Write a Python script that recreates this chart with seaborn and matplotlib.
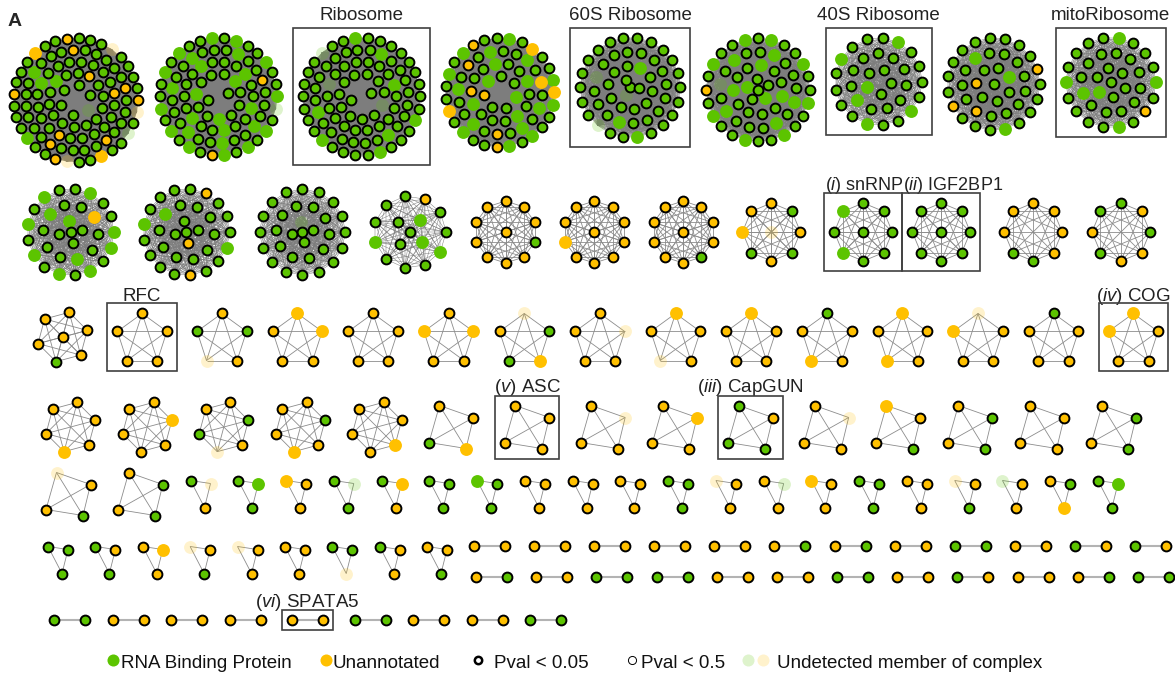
import itertools
import numpy as np
import pandas as pd
import seaborn as sns
import matplotlib.pyplot as plt
from matplotlib.collections import LineCollection
from matplotlib.patches import Rectangle

sns.set_theme(style="white")
plt.rcParams['font.family'] = ['Liberation Sans', 'DejaVu Sans']
plt.rcParams['mathtext.fontset'] = 'custom'
plt.rcParams['mathtext.it'] = 'Liberation Sans:italic'
plt.rcParams['mathtext.rm'] = 'Liberation Sans'

# node codes: G / Y = RNA binding protein / unannotated with Pval < 0.05
#             g / y = same with Pval < 0.5, u / v = undetected member of complex
# (big complexes are listed from the middle outwards)
ROW1 = [
    "GuGGGGGGGG" "GGYGGgGGGG" "GGGGYGGGGG" "GGgGGGGYGG" "GGGYGGGGGY"
    "GGGgGGGGGG" "YGGGGYGGGG" "GvGGGYGGyG" "GGYGGGgGGY" "vGGyGGuGvY",
    "GGgGGGgGGG" "gGGGGgGGgG" "GGgGGGGgGG" "gGGGYGGgGG" "GgGGgGGGgG"
    "GgGGgGGgGG" "gGgGGgGgGG" "gGgGgGYgGg" "GgGug",
    "GGGGuGGGGG" "GGGGGGGgGG" "GGGGuGGGGG" "GGGGGGGgGG" "GGGGGGgGGG"
    "GGGgGGGGGG" "GGgGGuGGGG" "GGGgGGGGgG" "GGgGG",
    "GgGGgYGgGG" "gGGgGGYgGG" "GgGyGgGGgG" "YGgGGgGYGg" "GgGGyGgGGY"
    "gGgGGyGgGG" "YgGgGGgy",
    "GGGuGGGgGG" "GGGGGGGGGG" "GGuGGGgGGG" "GGGGGGGGGG" "GGGuGGgGGGGG",
    "GgGGgGGgGG" "gGGgGGGgGG" "GgGGgGuGgG" "GGgGGgGGgG" "gGGgGYGgGG" "gGGgGGgG",
    "GGGgGGGGGG" "GGgGGGGGgG" "GGgGGGGgGGgGG",
    "GGgGGYGGGG" "GGGgGGGYGG" "GYGGGGGGGG" "GYGGGgGGGG",
    "GGGGGgGGGG" "GGGGgGGGGG" "GGgGGGGgGGGGgGYGg",
]
ROW1_BOX = {2: "Ribosome", 4: "60S Ribosome", 6: "40S Ribosome", 8: "mitoRibosome"}

ROW2 = [
    "GGgGGGyGGgGGGgGGGgGGgGgGgGgGgGgg",
    "GGGGYGGGGgGGGGGGGYGGGGgGGGGYGGgG",
    "GGuGGGGGGGGGGGGGGGGGGGGGGGGGGGG",
    "GgGGgGYGGGgGGGgG",
    "YYYGYYYYYY" "Y",
    "YYYYYYYyYY" "Y",
    "YYYYGYYYYY" "Y",
    "YGYGYGyY" "v",
    "GGGGGgGg" "G",
    "GGGGGGGG" "G",
    "YYYYGGYY",
    "GYGYYGYG",
]
ROW2_BOX = {8: r"$\mathit{(i)}$ snRNP", 9: r"$\mathit{(ii)}$ IGF2BP1"}

ROW3 = ["YYYGYY" "Y", "YYYYY", "YGYvG", "yyYYY", "YYYYY", "YyYYy", "vGyGY", "YvYYY",
        "yYYvY", "yYYYY", "GYYyY", "yYYyY", "vYYYy", "GYYYY", "yYYYy"]
ROW3_BOX = {1: "RFC", 14: r"$\mathit{(iv)}$ COG"}

ROW4 = ["YYYyYY", "YyYYYY", "YGYvGY", "YGYyYY", "YYyYYY", "YYyG", "YYYY", "YvYY",
        "YyYY", "GYGG", "YvYY", "yYGY", "YGGY", "YYYY", "YGGY"]
ROW4_BOX = {6: r"$\mathit{(v)}$ ASC", 9: r"$\mathit{(iii)}$ CapGUN"}

ROW5 = ["vYGY", "YGGY", "GvY", "GgG", "yYY", "GuG", "GyY", "GGG", "gGG", "YYY", "YYY",
        "YYY", "GGG", "vYY", "YuY", "yYY", "GGG", "YYY", "vYG", "uYY", "YGy", "GgG"]

ROW6_TRI = ["GGG", "GYG", "YyY", "vYG", "vYY", "YYY", "GGv", "GYY", "YYG"]
ROW6_PAIRS_A = ["YY", "YY", "YY", "YY", "YY", "YG", "YG", "YY", "GG", "YY", "GY", "GY"]
ROW6_PAIRS_B = ["YG", "YY", "GG", "GG", "YY", "YY", "GG", "YY", "GY", "YY", "YG", "GG"]

ROW7 = ["GG", "YY", "YY", "YY", "YY", "GG", "YY", "YY", "GG"]
ROW7_BOX = {4: r"$\mathit{(vi)}$ SPATA5"}

LEGEND_LABELS = ["RNA Binding Protein", "Unannotated", "Pval < 0.05", "Pval < 0.5",
                 "Undetected member of complex"]

GREEN = "#5cc400"
YELLOW = "#ffc000"
NODE_R = 6
PAD = 4


def disc_layout(n, R):
    # concentric rings, spacing shrunk until all nodes fit
    d = R
    while True:
        radii = []
        r = R
        while r > d / 2:
            radii.append(r)
            r -= d
        caps = [max(1, int(2 * np.pi * rr / d)) for rr in radii] + [1]
        radii.append(0.0)
        if sum(caps) >= n:
            break
        d *= 0.97
    pts, left = [], n
    for k, (rr, m) in enumerate(zip(radii, caps)):
        m = min(m, left)
        if m == 0:
            break
        a = 0.7 * k + 2 * np.pi * np.arange(m) / m
        pts += list(zip(rr * np.cos(a), rr * np.sin(a)))
        left -= m
    return pts[::-1]


def offsets(n):
    if n == 2:
        pts = [(-15.5, 0), (15.5, 0)]
    elif n == 3:
        pts = [(-11, -10), (9, -7), (3, 17)]
    elif n == 4:
        pts = [(-12.5, -22), (21.5, -10), (14, 21), (-23, 15)]
    elif n <= 11:
        ring = n - 1 if n in (7, 9, 11) else n
        r = {5: 26, 6: 25.5, 8: 29, 10: 31}[ring]
        start = -75 if ring == 6 else -90
        a = np.deg2rad(start + 360 * np.arange(ring) / ring)
        pts = list(zip(r * np.cos(a), r * np.sin(a)))
        if ring < n:
            pts.append((0, 0))
    else:
        pts = disc_layout(n, 25 + 4.3 * np.sqrt(n) - NODE_R)
    return np.array(pts, float)


nodes = []
edges = {"pair": [], "small": [], "big": []}
boxes = []


def layout_row(complexes, boxed, y, x_left, x_right, align="center", lab_off=3):
    shapes = [offsets(len(c)) for c in complexes]
    widths = [np.ptp(o[:, 0]) + 2 * NODE_R + (2 * PAD if i in boxed else 0)
              for i, o in enumerate(shapes)]
    joined = [i in boxed and i + 1 in boxed for i in range(len(complexes) - 1)]
    gap = (x_right - x_left - sum(widths)) / (len(joined) - sum(joined))
    x = x_left
    for i, (codes, o) in enumerate(zip(complexes, shapes)):
        left = x + (PAD if i in boxed else 0)
        cx = left + NODE_R - o[:, 0].min()
        if align == "top":
            cy = y + NODE_R - o[:, 1].min()
        else:
            cy = y - (o[:, 1].min() + o[:, 1].max()) / 2
        pts = o + [cx, cy]
        for (px, py), c in zip(pts, codes):
            nodes.append((px, py, c))
        n = len(codes)
        kind = "pair" if n == 2 else ("small" if n < 12 else "big")
        for a, b in itertools.combinations(range(n), 2):
            edges[kind].append([pts[a], pts[b]])
        if i in boxed:
            x0 = pts[:, 0].min() - NODE_R - PAD
            x1 = pts[:, 0].max() + NODE_R + PAD
            y0 = pts[:, 1].min() - NODE_R - PAD
            y1 = pts[:, 1].max() + NODE_R + PAD
            side = (i - 1 in boxed) or (i + 1 in boxed)
            boxes.append((x0, y0, x1, y1, boxed[i], lab_off, side))
        x += widths[i]
        if i < len(joined) and not joined[i]:
            x += gap


layout_row(ROW1, ROW1_BOX, 32, 8, 1166, align="top", lab_off=8)
layout_row(ROW2, ROW2_BOX, 232, 22, 1156)
layout_row(ROW3, ROW3_BOX, 337, 32, 1168, lab_off=2)
layout_row(ROW4, ROW4_BOX, 427, 40, 1142)
layout_row(ROW5, {}, 494, 40, 1124)
layout_row(ROW6_TRI, {}, 560, 42, 453)
layout_row(ROW6_PAIRS_A, {}, 546, 468, 1172)
layout_row(ROW6_PAIRS_B, {}, 577, 470, 1175)
layout_row(ROW7, ROW7_BOX, 620, 48, 567)

df = pd.DataFrame(nodes, columns=["x", "y", "code"])

fig = plt.figure(figsize=(11.75, 6.74), dpi=100)
ax = fig.add_axes([0, 0, 1, 1])

ax.add_collection(LineCollection(edges["big"], colors="#7d7d7d", linewidths=0.35, zorder=1))
ax.add_collection(LineCollection(edges["small"], colors="#8c8c8c", linewidths=0.6, zorder=1))
ax.add_collection(LineCollection(edges["pair"], colors="#b3b3b3", linewidths=1.5, zorder=1))

styles = [
    ("u", dict(color=GREEN, alpha=0.2, linewidth=0, s=86), 2),
    ("v", dict(color=YELLOW, alpha=0.2, linewidth=0, s=86), 2),
    ("g", dict(color=GREEN, linewidth=0, s=86), 3),
    ("y", dict(color=YELLOW, linewidth=0, s=86), 3),
    ("G", dict(color=GREEN, edgecolor="black", linewidth=1.4, s=50), 4),
    ("Y", dict(color=YELLOW, edgecolor="black", linewidth=1.4, s=50), 4),
]
for code, st, z in styles:
    sub = df[df.code == code]
    sns.scatterplot(data=sub, x="x", y="y", ax=ax, legend=False, zorder=z, **st)

for x0, y0, x1, y1, label, off, side in boxes:
    ax.add_patch(Rectangle((x0, y0), x1 - x0, y1 - y0, fill=False,
                           edgecolor="#404040", linewidth=1.2, zorder=5))
    if side:
        ax.text(x0 + 1, y0 - off, label, ha="left", va="baseline",
                fontsize=13, color="#222222")
    else:
        ax.text((x0 + x1) / 2, y0 - off, label, ha="center", va="baseline",
                fontsize=13.5, color="#222222")

ax.text(8, 26, "A", fontsize=14, fontweight="bold", va="baseline", ha="left")

# legend row
leg_y = 660
ax.scatter([113], [leg_y], s=75, color=GREEN, linewidths=0)
ax.scatter([326], [leg_y], s=75, color=YELLOW, linewidths=0)
ax.scatter([478], [leg_y], s=28, facecolor="white", edgecolor="black", linewidths=1.8)
ax.scatter([632], [leg_y], s=34, facecolor="white", edgecolor="black", linewidths=0.7)
ax.scatter([748], [leg_y], s=75, color=GREEN, alpha=0.2, linewidths=0)
ax.scatter([763], [leg_y], s=75, color=YELLOW, alpha=0.2, linewidths=0)
for tx, lab in zip([121, 333, 494, 641, 777], LEGEND_LABELS):
    ax.text(tx, 667.5, lab, fontsize=13.5, va="baseline", ha="left", color="#111111")

ax.set_xlim(0, 1175)
ax.set_ylim(674, 0)
ax.axis("off")
fig.savefig("out.png", dpi=100)
